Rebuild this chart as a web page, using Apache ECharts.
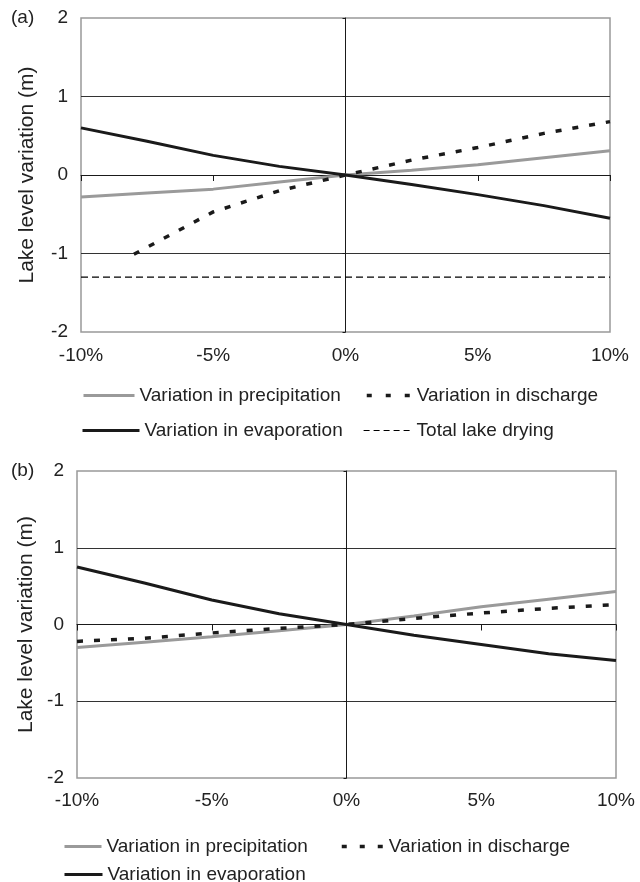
<!DOCTYPE html>
<html>
<head>
<meta charset="utf-8">
<script src="https://cdn.jsdelivr.net/npm/echarts@6/dist/echarts.min.js"></script>
<style>
  html, body { margin: 0; padding: 0; background: #fff; }
  #chart { width: 640px; height: 882px; }
</style>
</head>
<body>
<div id="chart"></div>
<script>
// Relative change of each driver (%) and the resulting lake level change (m)
const steps = [-10, -7.5, -5, -2.5, 0, 2.5, 5, 7.5, 10];

// Panel (a)
const precipA = [-0.28, -0.23, -0.18, -0.09, 0, 0.06, 0.13, 0.22, 0.31];
const evapA = [0.60, 0.43, 0.25, 0.11, 0, -0.12, -0.25, -0.39, -0.55];
const dischargeStepsA = [-8, -5, -2.5, 0, 2.5, 5, 7.5, 10];
const dischargeA = [-1.01, -0.47, -0.20, 0, 0.19, 0.35, 0.53, 0.68];
const dryingStepsA = [-10, 10];
const dryingA = [-1.30, -1.30];

// Panel (b)
const precipB = [-0.30, -0.23, -0.16, -0.08, 0, 0.11, 0.23, 0.33, 0.43];
const evapB = [0.75, 0.54, 0.32, 0.14, 0, -0.14, -0.26, -0.38, -0.47];
const dischargeB = [-0.22, -0.18, -0.11, -0.05, 0, 0.08, 0.15, 0.21, 0.26];

// Axis ranges and tick labels
const xRange = [-10, 10];
const xStep = 5;
const xTickLabels = ['-10%', '-5%', '0%', '5%', '10%'];
const yRange = [-2, 2];
const yStep = 1;
const yTitle = 'Lake level variation (m)';
const panelTags = ['(a)', '(b)'];

const NAMES = {
  precip: 'Variation in precipitation',
  discharge: 'Variation in discharge',
  evap: 'Variation in evaporation',
  drying: 'Total lake drying'
};

const FONT = '"Liberation Sans", Arial, Helvetica, sans-serif';
const TXT = '#222';
const GREY = '#9a9a9a';
const BLACK = '#1a1a1a';

const pairs = (xs, ys) => xs.map((x, i) => [x, ys[i]]);

function xAxesFor(g, labelMargin) {
  return [
    { // labels along the bottom of the frame
      gridIndex: g, type: 'value', min: xRange[0], max: xRange[1], interval: xStep,
      position: 'bottom',
      axisLine: { show: false, onZero: false },
      axisTick: { show: false },
      splitLine: { show: false },
      axisLabel: {
        margin: labelMargin, fontSize: 19, color: TXT, fontFamily: FONT,
        formatter: v => xTickLabels[Math.round((v - xRange[0]) / xStep)]
      }
    },
    { // zero line carrying the tick marks
      gridIndex: g, type: 'value', min: xRange[0], max: xRange[1], interval: xStep,
      position: 'bottom',
      axisLine: { show: true, onZero: true, lineStyle: { color: BLACK, width: 1 } },
      axisTick: { show: true, length: 6, lineStyle: { color: BLACK, width: 1 } },
      axisLabel: { show: false },
      splitLine: { show: false }
    }
  ];
}

function yAxesFor(g, nameGap) {
  return [
    {
      gridIndex: g, type: 'value', min: yRange[0], max: yRange[1], interval: yStep,
      position: 'left',
      axisLine: { show: false, onZero: false },
      axisTick: { show: false },
      splitLine: {
        show: true,
        lineStyle: { color: ['transparent', '#333', 'transparent', '#333', 'transparent'], width: 1 }
      },
      axisLabel: { margin: 13, fontSize: 19, color: TXT, fontFamily: FONT },
      name: yTitle, nameLocation: 'middle', nameRotate: 90, nameGap: nameGap,
      nameTextStyle: { fontSize: 21, color: TXT, fontFamily: FONT }
    },
    {
      gridIndex: g, type: 'value', min: yRange[0], max: yRange[1], interval: yStep,
      position: 'left',
      axisLine: { show: true, onZero: true, lineStyle: { color: BLACK, width: 1 } },
      axisTick: { show: true, length: 3, lineStyle: { color: BLACK, width: 1 } },
      axisLabel: { show: false },
      splitLine: { show: false }
    }
  ];
}

const styles = {
  precip: { color: GREY, width: 3, type: 'solid' },
  evap: { color: BLACK, width: 3, type: 'solid' },
  discharge: { color: BLACK, width: 3.5, type: [6, 11] },
  drying: { color: '#000', width: 1.3, type: [7, 4] }
};

function line(name, data, axisIdx, key, z) {
  return {
    name: name, type: 'line', data: data,
    xAxisIndex: axisIdx, yAxisIndex: axisIdx,
    symbol: 'none', showSymbol: false, z: z,
    lineStyle: Object.assign({}, styles[key]),
    itemStyle: { color: styles[key].color },
    emphasis: { disabled: true }
  };
}

function legendItem(key, left, top, itemWidth, legendLine) {
  return {
    left: left, top: top, padding: 0, itemWidth: itemWidth, itemHeight: 14,
    selectedMode: false,
    textStyle: { fontSize: 19, color: TXT, fontFamily: FONT },
    data: [{
      name: NAMES[key],
      itemStyle: { opacity: 0 },
      lineStyle: Object.assign({}, styles[key], legendLine || {})
    }]
  };
}

const option = {
  animation: false,
  backgroundColor: '#fff',
  title: [
    { text: panelTags[0], left: 11, top: 8, padding: 0,
      textStyle: { fontSize: 19, fontWeight: 'normal', color: TXT, fontFamily: FONT } },
    { text: panelTags[1], left: 11, top: 461, padding: 0,
      textStyle: { fontSize: 19, fontWeight: 'normal', color: TXT, fontFamily: FONT } }
  ],
  grid: [
    { left: 81, right: 30, top: 18, height: 314, show: true,
      borderColor: '#999', borderWidth: 1.5, backgroundColor: 'transparent' },
    { left: 77, right: 24, top: 471, height: 307, show: true,
      borderColor: '#999', borderWidth: 1.5, backgroundColor: 'transparent' }
  ],
  xAxis: [].concat(xAxesFor(0, 14), xAxesFor(1, 13)),
  yAxis: [].concat(yAxesFor(0, 43), yAxesFor(1, 33)),
  legend: [
    legendItem('precip', 82, 386, 51),
    legendItem('discharge', 365, 386, 45, { type: [5, 14] }),
    legendItem('evap', 81, 421, 57),
    legendItem('drying', 363, 421, 48, { type: [6, 4], width: 1.2 }),
    legendItem('precip', 63, 837, 37),
    legendItem('discharge', 340, 837, 42, { type: [5, 13] }),
    legendItem('evap', 63, 865, 38)
  ],
  series: [
    line(NAMES.drying, pairs(dryingStepsA, dryingA), 0, 'drying', 2),
    line(NAMES.precip, pairs(steps, precipA), 0, 'precip', 3),
    line(NAMES.discharge, pairs(dischargeStepsA, dischargeA), 0, 'discharge', 4),
    line(NAMES.evap, pairs(steps, evapA), 0, 'evap', 5),
    line(NAMES.precip, pairs(steps, precipB), 2, 'precip', 3),
    line(NAMES.discharge, pairs(steps, dischargeB), 2, 'discharge', 4),
    line(NAMES.evap, pairs(steps, evapB), 2, 'evap', 5)
  ]
};

const chart = echarts.init(document.getElementById('chart'), null, { renderer: 'canvas' });
chart.setOption(option);
</script>
</body>
</html>
